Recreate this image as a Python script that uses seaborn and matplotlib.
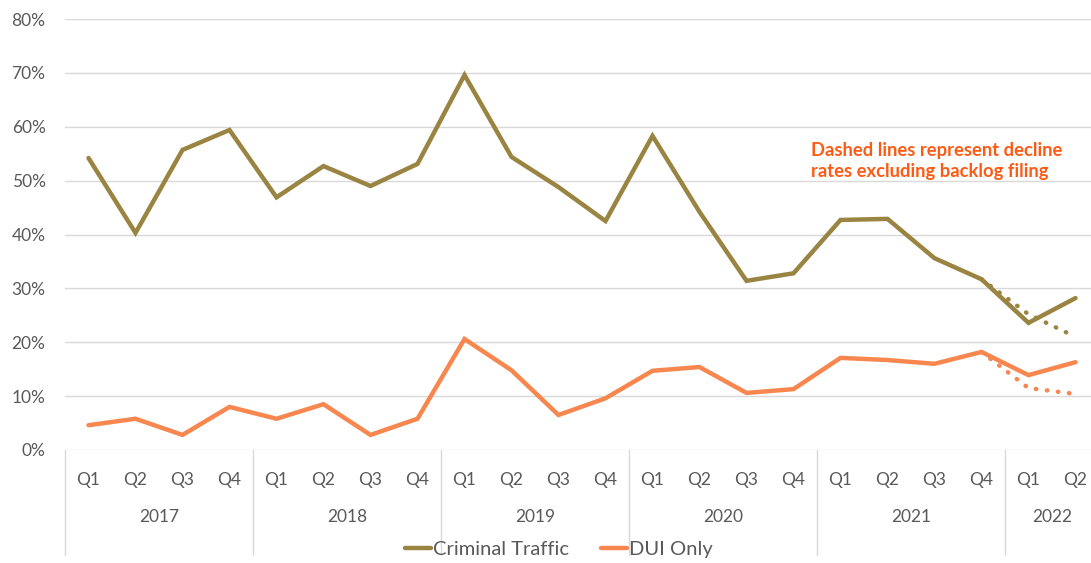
import matplotlib
matplotlib.use("Agg")
import matplotlib.pyplot as plt
import seaborn as sns
import pandas as pd
import numpy as np
from matplotlib.lines import Line2D

years = ["2017", "2018", "2019", "2020", "2021", "2022"]
quarters_per_year = [4, 4, 4, 4, 4, 2]
quarter_labels = ["Q1", "Q2", "Q3", "Q4"] * 5 + ["Q1", "Q2"]

criminal_traffic = [54.2, 40.3, 55.7, 59.4, 46.9, 52.7, 49.0, 53.1,
                    69.6, 54.4, 48.8, 42.5, 58.3, 44.2, 31.4, 32.8,
                    42.7, 42.9, 35.6, 31.7, 23.6, 28.2]
dui_only = [4.6, 5.8, 2.8, 8.0, 5.8, 8.5, 2.8, 5.8,
            20.6, 14.8, 6.5, 9.6, 14.7, 15.4, 10.6, 11.3,
            17.1, 16.7, 16.0, 18.2, 13.9, 16.3]
# dashed: excluding backlog filing (2021 Q4 - 2022 Q2)
ct_excl = [31.7, 25.2, 21.0]
dui_excl = [18.2, 11.5, 10.4]

ct_color = "#9A8442"
dui_color = "#F8874F"
note_color = "#FF5A14"

sns.set_theme(style="white")
plt.rcParams['font.family'] = ['Lato', 'DejaVu Sans']

n = len(quarter_labels)
idx = np.arange(n)
df = pd.DataFrame({
    "idx": np.concatenate([idx, idx]),
    "val": np.array(criminal_traffic + dui_only) / 100,
    "series": ["Criminal Traffic"] * n + ["DUI Only"] * n,
})
dash_idx = np.arange(n - 3, n)
df_dash = pd.DataFrame({
    "idx": np.concatenate([dash_idx, dash_idx]),
    "val": np.array(ct_excl + dui_excl) / 100,
    "series": ["Criminal Traffic"] * 3 + ["DUI Only"] * 3,
})

fig = plt.figure(figsize=(10.91, 5.63), dpi=100)
ax = fig.add_axes([65 / 1091, (563 - 450) / 563, 1026 / 1091, (450 - 19) / 563])

palette = {"Criminal Traffic": ct_color, "DUI Only": dui_color}
sns.lineplot(data=df_dash, x="idx", y="val", hue="series", palette=palette,
             linewidth=3.2, ax=ax, legend=False)
for l in ax.lines:
    l.set_linestyle((0, (0.1, 2.4)))
    l.set_dash_capstyle("round")
sns.lineplot(data=df, x="idx", y="val", hue="series", palette=palette,
             linewidth=3.2, ax=ax, legend=False)
for l in ax.lines[2:]:
    l.set_solid_capstyle("round")
    l.set_solid_joinstyle("miter")

ax.set_xlim(-0.5, -0.5 + 1026 / 47)
ax.set_ylim(0, 0.8)
ax.set_yticks(np.arange(0, 0.81, 0.1))
ax.set_yticklabels([f"{int(round(v*100))}%" for v in np.arange(0, 0.81, 0.1)],
                   color="#595959", fontsize=12.5)
ax.tick_params(axis="y", length=0, pad=14)
ax.grid(axis="y", color="#D9D9D9", linewidth=1)
ax.set_axisbelow(True)
ax.set_xticks([])
ax.set_xlabel("")
ax.set_ylabel("")
for s in ax.spines.values():
    s.set_visible(False)

# multi-level category axis
trans = ax.get_xaxis_transform()
ax_h_px = 450 - 19
def yfrac(px_below):
    return -px_below / ax_h_px

for i, q in enumerate(quarter_labels):
    ax.text(i, yfrac(30), q, transform=trans, ha="center", va="center",
            fontsize=12.5, color="#595959", clip_on=False)
start = 0
bounds = [-0.5]
for y, c in zip(years, quarters_per_year):
    center = start + (c - 1) / 2
    ax.text(center, yfrac(67), y, transform=trans, ha="center", va="center",
            fontsize=12.5, color="#595959", clip_on=False)
    start += c
    bounds.append(start - 0.5)
for b in bounds[:-1]:
    ax.add_line(Line2D([b, b], [0, yfrac(105)], transform=trans, color="#D9D9D9",
                       linewidth=1, clip_on=False))

ax.text(0.727, 0.67, "Dashed lines represent decline\nrates excluding backlog filing",
        transform=ax.transAxes, ha="left", va="center", fontsize=13.2,
        fontweight="bold", color=note_color, linespacing=1.3)

handles = [Line2D([], [], color=ct_color, linewidth=3.2),
           Line2D([], [], color=dui_color, linewidth=3.2)]
fig.legend(handles, ["Criminal Traffic", "DUI Only"], loc="center",
           bbox_to_anchor=(559 / 1091, 1 - 549 / 563), ncol=2, frameon=False,
           fontsize=14.5, handlelength=1.3, handletextpad=0.1, columnspacing=1.6,
           labelcolor="#595959")

fig.savefig("out.png", dpi=100)
